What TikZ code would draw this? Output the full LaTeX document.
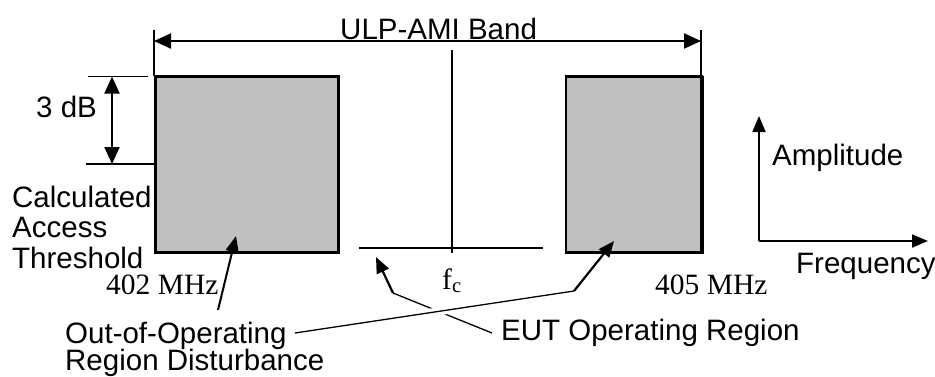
\documentclass[tikz,border=0pt]{standalone}
\usepackage{fontspec}
\setmainfont{Liberation Sans}
\newfontfamily\seriffont{Liberation Serif}
\usetikzlibrary{arrows.meta}
\definecolor{boxgray}{HTML}{C0C0C0}
\begin{document}
\begin{tikzpicture}[x=1pt,y=-1pt,
  lbl/.style={anchor=base west,inner sep=0pt,font=\fontsize{29.5}{30}\selectfont},
  slbl/.style={anchor=base west,inner sep=0pt,font=\fontsize{29.5}{30}\selectfont\seriffont},
  thinln/.style={line width=1.3pt},
  medln/.style={line width=2pt},
  tip/.style={-{Triangle[length=16pt,width=13pt]}},
  dtip/.style={{Triangle[length=17pt,width=15pt]}-{Triangle[length=17pt,width=15pt]}},
  spec/.style={fill=boxgray,draw=black,line width=2.5pt,line join=miter}]
\useasboundingbox (0,0) rectangle (935,376);

% spectral boxes
\draw[spec] (155.5,76.5) rectangle (338.5,252.5);
\draw[line width=3.5pt] (155.5,75.5) -- (155.5,253.5);
\draw[spec] (566,76.5) rectangle (702,252.5);
\draw[line width=3.8pt] (702,75.5) -- (702,253.8);

% band markers
\coordinate (bl) at (154,30);
\coordinate (br) at (701,30);
\coordinate (blb) at (154,76);
\coordinate (brb) at (701,76);
\draw[line width=1.6pt] (bl) -- (blb);
\draw[line width=1.6pt] (br) -- (brb);
\coordinate (al) at (154,41);
\coordinate (ar) at (701,41);
\draw[medln,dtip] (al) -- (ar);
\node[lbl] (band) at (340,39) {ULP-AMI Band};

% 3 dB
\coordinate (t1) at (88,76.5);
\coordinate (t2) at (148,76.5);
\coordinate (b1) at (86,164);
\coordinate (b2) at (155,164);
\draw[thinln] (t1) -- (t2);
\draw[medln] (b1) -- (b2);
\coordinate (da) at (112,76.5);
\coordinate (db) at (112,164);
\draw[medln,dtip] (da) -- (db);
\node[lbl] (db3) at (36,117) {3 dB};

% threshold label
\node[lbl] (calc) at (12,207) {Calculated};
\node[lbl] (acc) at (12,237.5) {Access};
\node[lbl] (thr) at (12,268) {Threshold};

% EUT operating region
\coordinate (ct) at (452,50);
\coordinate (cb) at (452,253);
\draw[thinln] (ct) -- (cb);
\coordinate (el) at (359,247.5);
\coordinate (er) at (543,247.5);
\draw[medln] (el) -- (er);

% frequency labels
\node[slbl] (f402) at (106,294) {402 MHz};
\node[slbl] (f405) at (655,294) {405 MHz};
\node[slbl] (fc) at (442,289) {f\textsubscript{c}};

% axes
\coordinate (ax0) at (759,241);
\coordinate (axy) at (759,116);
\coordinate (axx) at (928,241);
\draw[medln,tip] (ax0) -- (axy);
\draw[medln,tip] (ax0) -- (axx);
\node[lbl] (amp) at (772,165) {Amplitude};
\node[lbl] (freq) at (796,273) {Frequency};

% bottom labels
\node[lbl] (eut) at (501,340) {EUT Operating Region};
\node[lbl] (oo1) at (65,343) {Out-of-Operating};
\node[lbl] (oo2) at (65,370) {Region Disturbance};

% connectors
\coordinate (p402s) at (218,310);
\coordinate (p402t) at (236,236);
\draw[medln,tip] (p402s) -- (p402t);

\coordinate (es) at (492,333);
\coordinate (ec) at (393,293);
\coordinate (et) at (376,257);
\draw[thinln] (es) -- (ec);
\draw[line width=2.2pt,tip] (ec) -- (et);

\coordinate (os) at (295,333);
\coordinate (oc) at (574,291);
\coordinate (ot) at (614,241);
\draw[thinln,preaction={draw=white,line width=8pt}] (os) -- (oc);
\draw[line width=2.2pt,tip] (oc) -- (ot);
\end{tikzpicture}
\end{document}
